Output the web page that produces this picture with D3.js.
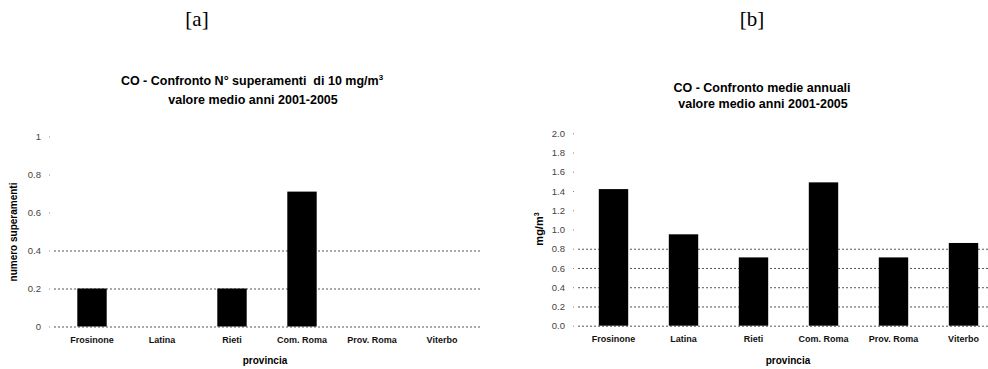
<!DOCTYPE html>
<html><head><meta charset="utf-8">
<script src="https://cdn.jsdelivr.net/npm/d3@7"></script>
<style>body{margin:0;background:#fff}svg{display:block}text{white-space:pre}</style>
</head><body>
<svg id="c" width="988" height="369"></svg>
<script>
const categories = ["Frosinone","Latina","Rieti","Com. Roma","Prov. Roma","Viterbo"];
const superamenti = [0.2, 0, 0.2, 0.71, 0, 0];
const medieAnnuali = [1.42, 0.95, 0.71, 1.49, 0.71, 0.86];
const ticksA = [0, 0.2, 0.4, 0.6, 0.8, 1];
const ticksB = [0, 0.2, 0.4, 0.6, 0.8, 1.0, 1.2, 1.4, 1.6, 1.8, 2.0];
const gridA = [0, 0.2, 0.4];
const gridB = [0, 0.2, 0.4, 0.6, 0.8];

const svg = d3.select("#c");
const F = "Liberation Sans, Arial, sans-serif";

function panel(cfg){
  const g = svg.append("g");
  const x = d3.scaleBand().domain(categories).range(cfg.xr).paddingInner(0.58).paddingOuter(0.29);
  const y = d3.scaleLinear().domain(cfg.yd).range(cfg.yr);
  g.selectAll("line.grid").data(cfg.grid).join("line")
    .attr("x1", cfg.gx[0]).attr("x2", cfg.gx[1])
    .attr("y1", d=>y(d)+0.5).attr("y2", d=>y(d)+0.5)
    .attr("stroke", "#555").attr("stroke-width", 1).attr("stroke-dasharray", "2,2");
  g.selectAll("rect").data(cfg.values).join("rect")
    .attr("x", (d,i)=>x(categories[i])).attr("width", x.bandwidth())
    .attr("y", d=>y(d)).attr("height", d=>y(0)-y(d)).attr("fill", "#000");
  const ya = d3.axisLeft(y).tickValues(cfg.ticks).tickFormat(cfg.fmt).tickSize(3).tickPadding(6);
  const yg = g.append("g").attr("transform", `translate(${cfg.axX},0)`).call(ya);
  yg.select(".domain").remove();
  yg.selectAll(".tick line").attr("stroke", "#888").attr("stroke-dasharray","1,2");
  yg.selectAll("text").attr("font-family", F).attr("font-size", 9.5).attr("fill", "#444");
  const xa = d3.axisBottom(x).tickSize(0).tickPadding(10);
  const xg = g.append("g").attr("transform", `translate(0,${y(0)})`).call(xa);
  xg.select(".domain").remove();
  xg.selectAll("text").attr("font-family", F).attr("font-size", 9).attr("font-weight", "bold").attr("fill", "#111");
  g.append("text").attr("x", cfg.xtX).attr("y", 364).attr("text-anchor","middle")
    .attr("font-family", F).attr("font-size", 10).attr("font-weight","bold").text("provincia");
  return {g, x, y};
}

const pa = panel({xr:[57,477], yd:[0,1], yr:[326.5,136.5], grid:gridA, gx:[54,480], values:superamenti,
  ticks:ticksA, fmt:d=>d3.format("")(d), axX:50, xtX:265});
pa.g.append("text").attr("transform","translate(17,232) rotate(-90)").attr("text-anchor","middle")
  .attr("font-family",F).attr("font-size",10).attr("font-weight","bold").text("numero superamenti");

const pb = panel({xr:[578.5,998.5], yd:[0,2], yr:[325.7,133.3], grid:gridB, gx:[578,988], values:medieAnnuali,
  ticks:ticksB, fmt:d3.format(".1f"), axX:574, xtX:788});
const yl = pb.g.append("text").attr("transform","translate(543,229) rotate(-90)").attr("text-anchor","middle")
  .attr("font-family",F).attr("font-size",11).attr("font-weight","bold");
yl.append("tspan").text("mg/m");
yl.append("tspan").attr("dy",-4).attr("font-size",7).text("3");

svg.append("text").attr("x",197).attr("y",26).attr("text-anchor","middle")
  .attr("font-family","Liberation Serif, Times New Roman, serif").attr("font-size",21).text("[a]");
svg.append("text").attr("x",752).attr("y",26).attr("text-anchor","middle")
  .attr("font-family","Liberation Serif, Times New Roman, serif").attr("font-size",21).text("[b]");

const t1 = svg.append("text").attr("x",252).attr("y",85).attr("text-anchor","middle")
  .attr("font-family",F).attr("font-size",12.5).attr("font-weight","bold");
t1.append("tspan").text("CO - Confronto N° superamenti  di 10 mg/m");
t1.append("tspan").attr("dy",-5).attr("font-size",8).text("3");
svg.append("text").attr("x",253).attr("y",104).attr("text-anchor","middle")
  .attr("font-family",F).attr("font-size",12.5).attr("font-weight","bold").text("valore medio anni 2001-2005");
svg.append("text").attr("x",762).attr("y",92).attr("text-anchor","middle")
  .attr("font-family",F).attr("font-size",12.5).attr("font-weight","bold").text("CO - Confronto medie annuali");
svg.append("text").attr("x",763).attr("y",108).attr("text-anchor","middle")
  .attr("font-family",F).attr("font-size",12.5).attr("font-weight","bold").text("valore medio anni 2001-2005");
</script>
</body></html>
